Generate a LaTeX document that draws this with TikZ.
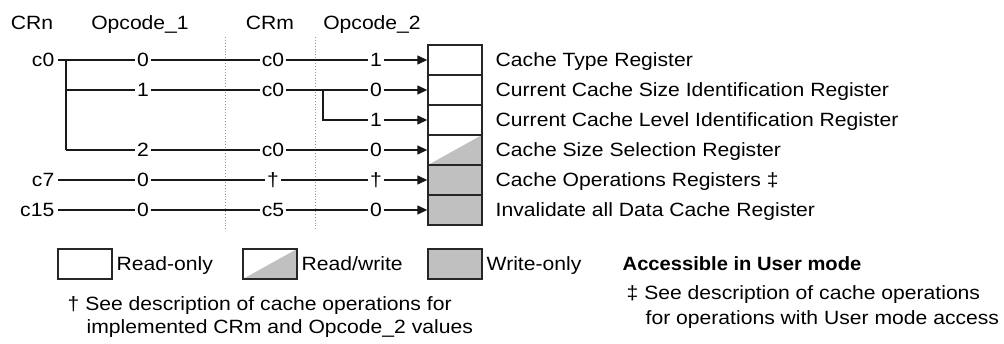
\documentclass[tikz,border=0pt]{standalone}
\usepackage{fontspec}
\setmainfont[FakeStretch=1.1, BoldFeatures={FakeStretch=1.05}]{Liberation Sans}
\usetikzlibrary{arrows.meta}
\definecolor{regray}{RGB}{192,192,192}
\definecolor{dotgray}{RGB}{150,150,150}
\tikzset{
  txt/.style={inner sep=0pt, inner xsep=1.5pt, text height=13.8pt, text depth=0pt, font=\fontsize{19.2}{23}\selectfont},
  lbl/.style={txt, anchor=west},
  val/.style={txt},
  wire/.style={line width=1.3pt, black!90},
  arr/.style={wire, -{Triangle[length=10pt,width=9pt]}},
  regbox/.style={draw=black!85, line width=1.4pt, minimum width=54pt, minimum height=30pt, inner sep=0pt, fill=white},
  wobox/.style={regbox, fill=regray},
  rwbox/.style={regbox, path picture={\fill[regray] (path picture bounding box.south west) -- (path picture bounding box.north east) -- (path picture bounding box.south east) -- cycle;}},
  sep/.style={dotgray, dotted, line width=0.9pt}
}
\begin{document}
\begin{tikzpicture}[x=1pt,y=-1pt]
\useasboundingbox (0,0) rectangle (1004,344);
% headers
\node[val] (hCRn) at (32,23) {CRn};
\node[val] (hOp1) at (140,23) {Opcode\_1};
\node[val] (hCRm) at (270,23) {CRm};
\node[val] (hOp2) at (372,23) {Opcode\_2};
% separators
\coordinate (s1a) at (225,37); \coordinate (s1b) at (225,230);
\coordinate (s2a) at (315,37); \coordinate (s2b) at (315,230);
\draw[sep] (s1a) -- (s1b);
\draw[sep] (s2a) -- (s2b);
% registers
\node[regbox] (r1) at (455,60) {};
\node[regbox] (r2) at (455,90) {};
\node[regbox] (r3) at (455,120) {};
\node[rwbox] (r4) at (455,150) {};
\node[wobox] (r5) at (455,180) {};
\node[wobox] (r6) at (455,210) {};
\node[lbl] (t1) at (494,60) {Cache Type Register};
\node[lbl] (t2) at (494,90) {Current Cache Size Identification Register};
\node[lbl] (t3) at (494,120) {Current Cache Level Identification Register};
\node[lbl] (t4) at (494,150) {Cache Size Selection Register};
\node[lbl] (t5) at (494,180) {Cache Operations Registers ‡};
\node[lbl] (t6) at (494,210) {Invalidate all Data Cache Register};
% row labels
\node[txt, anchor=east] (n1) at (56,60) {c0};
\node[txt, anchor=east] (n5) at (56,180) {c7};
\node[txt, anchor=east] (n6) at (56,210) {c15};
% values
\node[val] (o1) at (143,60) {0};
\node[val] (m1) at (273,60) {c0};
\node[val] (p1) at (376,60) {1};
\node[val] (o2) at (143,90) {1};
\node[val] (m2) at (273,90) {c0};
\node[val] (p2) at (376,90) {0};
\node[val] (p3) at (376,120) {1};
\node[val] (o4) at (143,150) {2};
\node[val] (m4) at (273,150) {c0};
\node[val] (p4) at (376,150) {0};
\node[val] (o5) at (143,180) {0};
\node[val] (m5) at (273,180) {†};
\node[val] (p5) at (376,180) {†};
\node[val] (o6) at (143,210) {0};
\node[val] (m6) at (273,210) {c5};
\node[val] (p6) at (376,210) {0};
% branch points
\coordinate (bA) at (66,60);
\coordinate (bB) at (66,90);
\coordinate (bC) at (66,150);
\coordinate (cA) at (323,90);
\coordinate (cB) at (323,120);
% wires
\draw[wire] ([xshift=2pt]n1.east) -- (o1) -- (m1) -- (p1);
\draw[arr] (p1) -- (r1.west);
\draw[wire] (bA) -- (bC);
\draw[wire] (bB) -- (o2) -- (m2) -- (p2);
\draw[arr] (p2) -- (r2.west);
\draw[wire] (cA) -- (cB) -- (p3);
\draw[arr] (p3) -- (r3.west);
\draw[wire] (bC) -- (o4) -- (m4) -- (p4);
\draw[arr] (p4) -- (r4.west);
\draw[wire] ([xshift=2pt]n5.east) -- (o5) -- (m5) -- (p5);
\draw[arr] (p5) -- (r5.west);
\draw[wire] ([xshift=2pt]n6.east) -- (o6) -- (m6) -- (p6);
\draw[arr] (p6) -- (r6.west);
% legend
\node[regbox] (lro) at (85,264) {};
\node[lbl] (lrot) at (115,264) {Read-only};
\node[rwbox] (lrw) at (270,264) {};
\node[lbl] (lrwt) at (300,264) {Read/write};
\node[wobox] (lwo) at (455,264) {};
\node[lbl] (lwot) at (485,264) {Write-only};
\node[lbl, font=\fontsize{19.2}{23}\selectfont\bfseries] (acc) at (621,264) {Accessible in User mode};
\node[lbl] (fd1) at (625,293) {‡ See description of cache operations};
\node[lbl] (fd2) at (644,318) {for operations with User mode access};
\node[lbl] (fa1) at (66,304) {† See description of cache operations for};
\node[lbl] (fa2) at (85,327) {implemented CRm and Opcode\_2 values};
\end{tikzpicture}
\end{document}
